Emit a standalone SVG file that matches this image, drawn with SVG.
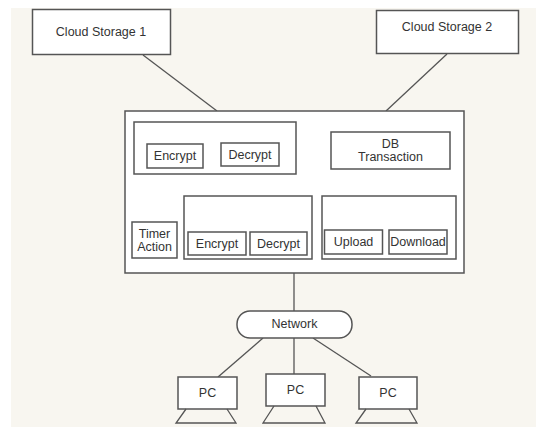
<svg xmlns="http://www.w3.org/2000/svg" width="536" height="427" viewBox="0 0 536 427">
<style>
.b{fill:#fff;stroke:#555;stroke-width:1.5}
.t{font-family:"Liberation Sans",Arial,sans-serif;font-size:12.5px;fill:#333;text-anchor:middle;dominant-baseline:central}
.c{stroke:#555;stroke-width:1.3;fill:none}
</style>
<rect width="536" height="427" fill="#fff"/>
<rect x="11" y="8" width="525" height="419" fill="#f8f6f0"/>
<g id="connectors">
<line class="c" x1="143" y1="55" x2="217" y2="111"/>
<line class="c" x1="447" y1="54" x2="386" y2="111"/>
<line class="c" x1="294" y1="273" x2="294" y2="311"/>
<line class="c" x1="263" y1="338" x2="218" y2="377"/>
<line class="c" x1="294" y1="338" x2="294" y2="374"/>
<line class="c" x1="313" y1="338" x2="371" y2="376"/>
</g>
<g id="cloud1"><rect class="b" x="32.5" y="9.5" width="138" height="45"/><text class="t" x="101" y="32">Cloud Storage 1</text></g>
<g id="cloud2"><rect class="b" x="376.5" y="10.5" width="142" height="43"/><text class="t" x="447" y="27">Cloud Storage 2</text></g>
<g id="server">
<rect class="b" x="125" y="111" width="339" height="162"/>
<g id="crypto1"><rect class="b" x="134" y="122" width="162" height="52"/>
<g id="enc1"><rect class="b" x="147" y="144" width="56" height="24"/><text class="t" x="175" y="156">Encrypt</text></g>
<g id="dec1"><rect class="b" x="221" y="143" width="58" height="23"/><text class="t" x="250" y="154.5">Decrypt</text></g>
</g>
<g id="db"><rect class="b" x="331" y="132" width="119" height="37"/><text class="t" x="390.5" y="143.5">DB</text><text class="t" x="390.5" y="156.5">Transaction</text></g>
<g id="timer"><rect class="b" x="132" y="222" width="45" height="36"/><text class="t" x="154.5" y="233.5">Timer</text><text class="t" x="154.5" y="246.5">Action</text></g>
<g id="crypto2"><rect class="b" x="184" y="196" width="128" height="63"/>
<g id="enc2"><rect class="b" x="188" y="232" width="58" height="23"/><text class="t" x="217" y="243.5">Encrypt</text></g>
<g id="dec2"><rect class="b" x="250" y="232" width="57" height="23"/><text class="t" x="278.5" y="243.5">Decrypt</text></g>
</g>
<g id="transfer"><rect class="b" x="322" y="196" width="134" height="63"/>
<g id="upload"><rect class="b" x="324.5" y="230" width="58" height="24"/><text class="t" x="353.5" y="242">Upload</text></g>
<g id="download"><rect class="b" x="389" y="230" width="58" height="24"/><text class="t" x="418" y="242">Download</text></g>
</g>
</g>
<g id="network"><rect class="b" x="237" y="311" width="115" height="27" rx="13" ry="13"/><text class="t" x="294.5" y="324">Network</text></g>
<g id="pc1"><rect class="b" x="178" y="377" width="59" height="32"/><path class="c" d="M186 409 L176 423 L236 423 L227 409"/><text class="t" x="207.5" y="393">PC</text></g>
<g id="pc2"><rect class="b" x="266" y="374" width="59" height="32"/><path class="c" d="M274 406 L263 423 L325 423 L316 406"/><text class="t" x="295.5" y="390">PC</text></g>
<g id="pc3"><rect class="b" x="359" y="377" width="58" height="32"/><path class="c" d="M366 409 L356 423 L417 423 L409 409"/><text class="t" x="388" y="393">PC</text></g>
</svg>
